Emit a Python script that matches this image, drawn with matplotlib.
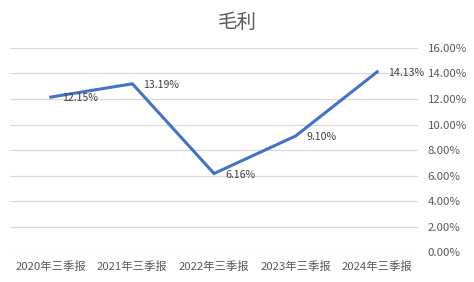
import matplotlib
matplotlib.use("Agg")
import matplotlib.pyplot as plt
from matplotlib.ticker import FuncFormatter, MultipleLocator

plt.rcParams['font.family'] = ['Noto Sans CJK SC', 'DejaVu Sans']

periods = ["2020年三季报", "2021年三季报", "2022年三季报", "2023年三季报", "2024年三季报"]
gross_margin = [12.15, 13.19, 6.16, 9.10, 14.13]

text_color = "#595959"

fig = plt.figure(figsize=(4.74, 2.82), dpi=100)
ax = fig.add_axes([0.021, 0.106, 0.861, 0.724])

x = list(range(len(periods)))
ax.plot(x, gross_margin, color="#4472C4", linewidth=2.2, solid_joinstyle="miter")

# labels to the right of each point
for xi, v in zip(x, gross_margin):
    ax.annotate(f"{v:.2f}%", (xi, v), xytext=(8, -1), textcoords="offset points",
                ha="left", va="center", fontsize=7.6, color="#404040")

ax.set_xlim(-0.5, len(periods) - 0.5)
ax.set_ylim(0, 16)
ax.yaxis.set_major_locator(MultipleLocator(2))
ax.yaxis.set_major_formatter(FuncFormatter(lambda v, _: f"{v:.2f}%"))
ax.yaxis.tick_right()
ax.set_xticks(x)
ax.set_xticklabels(periods)
ax.tick_params(axis="both", length=0, labelsize=8.2, colors=text_color)
ax.tick_params(axis="y", pad=7)
ax.tick_params(axis="x", pad=6)

ax.grid(axis="y", color="#D9D9D9", linewidth=0.9)
ax.set_axisbelow(True)
for s in ax.spines.values():
    s.set_visible(False)

fig.text(0.5, 0.922, "毛利", ha="center", va="center", fontsize=14, color=text_color)

fig.savefig("out.png", dpi=100, facecolor="white")
